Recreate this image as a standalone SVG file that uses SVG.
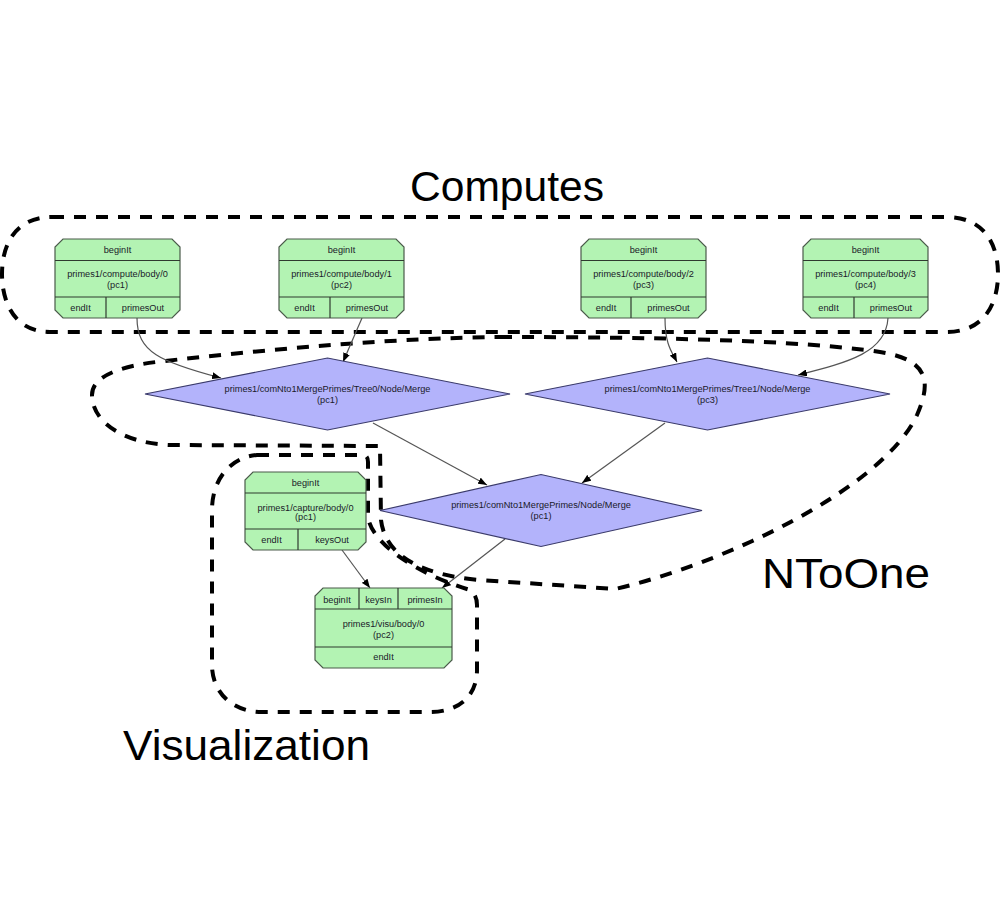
<svg xmlns="http://www.w3.org/2000/svg" width="1000" height="908" viewBox="0 0 1000 908">
<style>
.bg{fill:#ffffff}
.cl{fill:none;stroke:#000;stroke-width:4;stroke-dasharray:12 10}
.title{font-family:"Liberation Sans",Arial,sans-serif;font-size:42px;fill:#000}
.nd{fill:#b3f3b3;stroke:#4a5a4a;stroke-width:1.2}
.dv{stroke:#2f3a2f;stroke-width:1.2}
.dm{fill:#b3b3fb;stroke:#3a3a6a;stroke-width:1.2}
.t{font-family:"Liberation Sans",Arial,sans-serif;font-size:9.2px;fill:#1a1a2a;text-anchor:middle}
.e{fill:none;stroke:#555;stroke-width:1.2}
</style>
<defs>
<marker id="ah" markerWidth="9" markerHeight="7" refX="9" refY="3.5" orient="auto" markerUnits="userSpaceOnUse">
<path d="M0,0 L9,3.5 L0,7 Z" fill="#000"/>
</marker>
</defs>
<rect class="bg" x="0" y="0" width="1000" height="908"/>

<g id="clusters">
<path id="cluster-computes" class="cl" d="M52,217 L946,217 C985,217 998,245 998,274 C998,303 985,332 946,332 L50,332 C15,332 2,303 2,274 C2,245 15,217 52,217 Z"/>
<path id="cluster-ntoone" class="cl" d="M500,337 C650,337 800,340 880,352 C932,360 930,385 917,415 C882,490 720,565 615,589 L480,580 C420,575 385,555 381,520 L380,446 L170,445 C120,443 92,420 92,395 C92,378 115,366 165,361 C280,348 400,338 500,337 Z"/>
<path id="cluster-visualization" class="cl" d="M257,455 L362,455 Q368,455 368,462 L368,517 C372,545 420,575 470,590 Q477,595 477,605 L477,670 C477,695 460,712 430,712 L262,712 C232,712 212,692 212,665 L212,510 C212,480 230,457 257,455 Z"/>
<text class="title" x="507" y="201" text-anchor="middle" textLength="194" lengthAdjust="spacingAndGlyphs">Computes</text>
<text class="title" x="762" y="588" textLength="168" lengthAdjust="spacingAndGlyphs">NToOne</text>
<text class="title" x="123" y="760" textLength="247" lengthAdjust="spacingAndGlyphs">Visualization</text>
</g>

<g id="connectors">
<path class="e" marker-end="url(#ah)" d="M137,318 C137,352 160,362 221,378"/>
<path class="e" marker-end="url(#ah)" d="M362,318 L343,362"/>
<path class="e" marker-end="url(#ah)" d="M665,318 C665,345 672,352 677,362"/>
<path class="e" marker-end="url(#ah)" d="M888,318 C886,352 850,362 798,375"/>
<path class="e" marker-end="url(#ah)" d="M373,423 L487,485"/>
<path class="e" marker-end="url(#ah)" d="M665,423 L582,483"/>
<path class="e" marker-end="url(#ah)" d="M342,550 L370,588"/>
<path class="e" marker-end="url(#ah)" d="M505,539 L442,588"/>
</g>

<g id="compute0" transform="translate(55,239)">
<polygon class="nd" points="8,0 117,0 125,8 125,71 117,79 8,79 0,71 0,8"/>
<line class="dv" x1="0" y1="21.5" x2="125" y2="21.5"/><line class="dv" x1="0" y1="58" x2="125" y2="58"/><line class="dv" x1="51" y1="58" x2="51" y2="79"/>
<text class="t" x="62.5" y="14">beginIt</text>
<text class="t" x="62.5" y="38">primes1/compute/body/0</text>
<text class="t" x="62.5" y="49">(pc1)</text>
<text class="t" x="25.5" y="72">endIt</text>
<text class="t" x="88" y="72">primesOut</text>
</g>
<g id="compute1" transform="translate(279,239)">
<polygon class="nd" points="8,0 117,0 125,8 125,71 117,79 8,79 0,71 0,8"/>
<line class="dv" x1="0" y1="21.5" x2="125" y2="21.5"/><line class="dv" x1="0" y1="58" x2="125" y2="58"/><line class="dv" x1="51" y1="58" x2="51" y2="79"/>
<text class="t" x="62.5" y="14">beginIt</text>
<text class="t" x="62.5" y="38">primes1/compute/body/1</text>
<text class="t" x="62.5" y="49">(pc2)</text>
<text class="t" x="25.5" y="72">endIt</text>
<text class="t" x="88" y="72">primesOut</text>
</g>
<g id="compute2" transform="translate(581,239)">
<polygon class="nd" points="8,0 117,0 125,8 125,71 117,79 8,79 0,71 0,8"/>
<line class="dv" x1="0" y1="21.5" x2="125" y2="21.5"/><line class="dv" x1="0" y1="58" x2="125" y2="58"/><line class="dv" x1="50" y1="58" x2="50" y2="79"/>
<text class="t" x="62.5" y="14">beginIt</text>
<text class="t" x="62.5" y="38">primes1/compute/body/2</text>
<text class="t" x="62.5" y="49">(pc3)</text>
<text class="t" x="25" y="72">endIt</text>
<text class="t" x="87.5" y="72">primesOut</text>
</g>
<g id="compute3" transform="translate(803,239)">
<polygon class="nd" points="8,0 117,0 125,8 125,71 117,79 8,79 0,71 0,8"/>
<line class="dv" x1="0" y1="21.5" x2="125" y2="21.5"/><line class="dv" x1="0" y1="58" x2="125" y2="58"/><line class="dv" x1="51" y1="58" x2="51" y2="79"/>
<text class="t" x="62.5" y="14">beginIt</text>
<text class="t" x="62.5" y="38">primes1/compute/body/3</text>
<text class="t" x="62.5" y="49">(pc4)</text>
<text class="t" x="25.5" y="72">endIt</text>
<text class="t" x="88" y="72">primesOut</text>
</g>

<g id="merge-tree0">
<polygon class="dm" points="145,394 327.5,358 510,394 327.5,430"/>
<text class="t" x="327.5" y="392">primes1/comNto1MergePrimes/Tree0/Node/Merge</text>
<text class="t" x="327.5" y="403">(pc1)</text>
</g>
<g id="merge-tree1">
<polygon class="dm" points="525,394 707.5,358 890,394 707.5,430"/>
<text class="t" x="707.5" y="392">primes1/comNto1MergePrimes/Tree1/Node/Merge</text>
<text class="t" x="707.5" y="403">(pc3)</text>
</g>
<g id="merge-final">
<polygon class="dm" points="380,510.5 541,474.5 702,510.5 541,546.5"/>
<text class="t" x="541" y="508">primes1/comNto1MergePrimes/Node/Merge</text>
<text class="t" x="541" y="519">(pc1)</text>
</g>

<g id="capture0" transform="translate(245,472)">
<polygon class="nd" points="8,0 113,0 121,8 121,70 113,78 8,78 0,70 0,8"/>
<line class="dv" x1="0" y1="21" x2="121" y2="21"/><line class="dv" x1="0" y1="57" x2="121" y2="57"/><line class="dv" x1="53" y1="57" x2="53" y2="78"/>
<text class="t" x="60.5" y="13.5">beginIt</text>
<text class="t" x="60.5" y="38.5">primes1/capture/body/0</text>
<text class="t" x="60.5" y="48">(pc1)</text>
<text class="t" x="26.5" y="71">endIt</text>
<text class="t" x="87" y="71">keysOut</text>
</g>

<g id="visu0" transform="translate(315,588)">
<polygon class="nd" points="8,0 129,0 137,8 137,72 129,80 8,80 0,72 0,8"/>
<line class="dv" x1="0" y1="21" x2="137" y2="21"/><line class="dv" x1="0" y1="59" x2="137" y2="59"/><line class="dv" x1="44" y1="0" x2="44" y2="21"/><line class="dv" x1="83" y1="0" x2="83" y2="21"/>
<text class="t" x="22" y="15">beginIt</text>
<text class="t" x="63.5" y="15">keysIn</text>
<text class="t" x="110" y="15">primesIn</text>
<text class="t" x="68.5" y="39">primes1/visu/body/0</text>
<text class="t" x="68.5" y="50">(pc2)</text>
<text class="t" x="68.5" y="72">endIt</text>
</g>
</svg>
